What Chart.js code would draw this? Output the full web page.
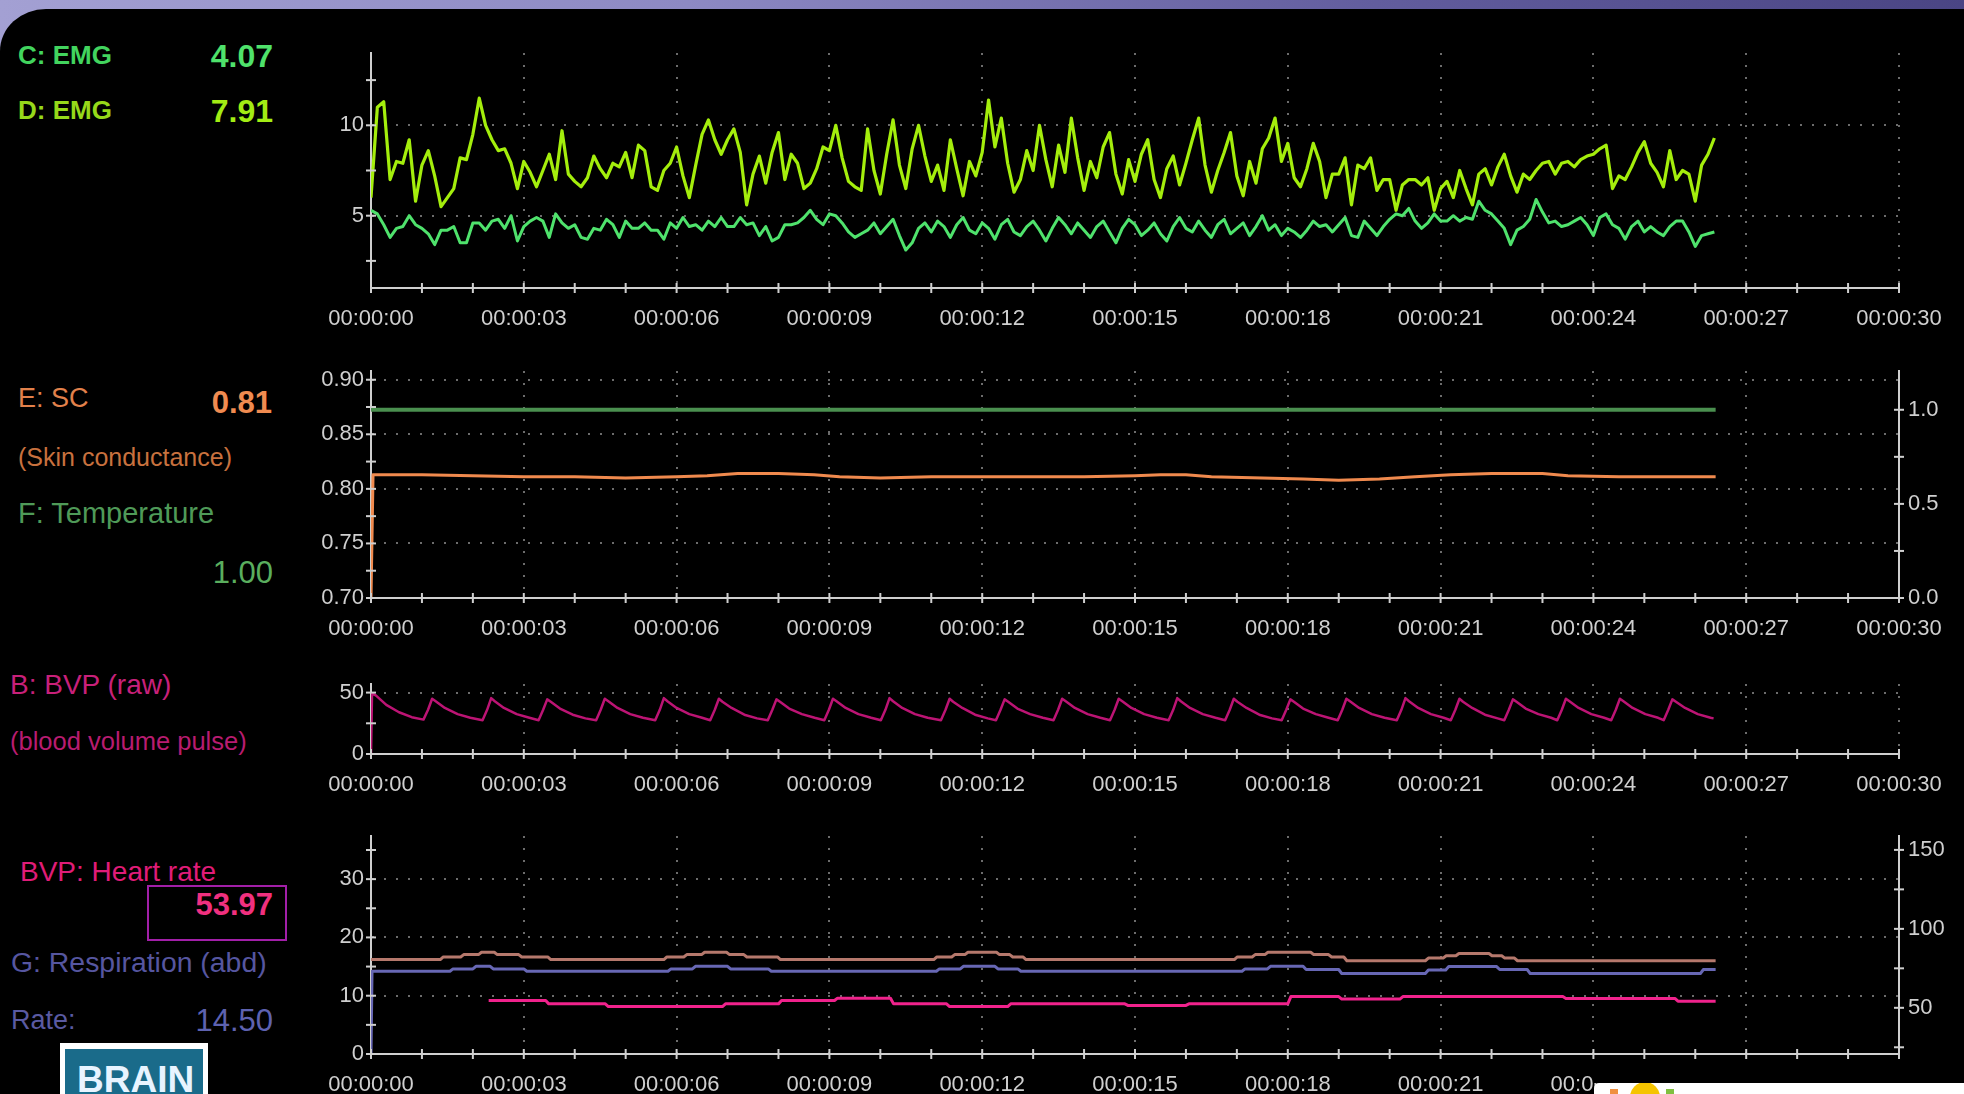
<!DOCTYPE html>
<html>
<head>
<meta charset="utf-8">
<script src="https://cdn.jsdelivr.net/npm/chart.js@4.4.1/dist/chart.umd.min.js"></script>
<style>
  html, body { margin: 0; padding: 0; background: #000; }
  #screen { position: relative; width: 1964px; height: 1094px; overflow: hidden;
    background: linear-gradient(90deg, #a3a0d3 0%, #8d89c3 35%, #625d9e 70%, #4a4584 100%);
    font-family: 'Liberation Sans', Arial, sans-serif; }
  #panel { position: absolute; left: 0; top: 9px; width: 1964px; height: 1085px; background: #000;
    border-top-left-radius: 46px 42px; }
  .lbl { position: absolute; white-space: nowrap; line-height: 1; transform: translateY(-50%); }
  .val { position: absolute; white-space: nowrap; line-height: 1; transform: translateY(-50%); text-align: right; width: 120px; }
  canvas { position: absolute; left: 300px; }
</style>
</head>
<body>
<div id="screen">
  <div id="panel"></div>

  <div class="lbl" style="left:18px;top:55px;color:#42d45e;font-weight:bold;font-size:26px">C: EMG</div>
  <div class="val" style="left:153px;top:56px;color:#4fe26b;font-weight:bold;font-size:32px">4.07</div>
  <div class="lbl" style="left:18px;top:110px;color:#96d81a;font-weight:bold;font-size:26px">D: EMG</div>
  <div class="val" style="left:153px;top:111px;color:#a2ec14;font-weight:bold;font-size:32px">7.91</div>

  <div class="lbl" style="left:18px;top:398px;color:#e2814b;font-size:27px">E: SC</div>
  <div class="val" style="left:152px;top:402px;color:#f08b50;font-weight:bold;font-size:31px">0.81</div>
  <div class="lbl" style="left:18px;top:457px;color:#c8713e;font-size:25px">(Skin conductance)</div>
  <div class="lbl" style="left:18px;top:513px;color:#4f9a58;font-size:29px">F: Temperature</div>
  <div class="val" style="left:153px;top:572px;color:#5aae5e;font-size:31px">1.00</div>

  <div class="lbl" style="left:10px;top:685px;color:#c8207a;font-size:28px">B: BVP (raw)</div>
  <div class="lbl" style="left:10px;top:742px;color:#b81c70;font-size:25.5px">(blood volume pulse)</div>

  <div class="lbl" style="left:20px;top:872px;color:#e01c78;font-size:28px">BVP: Heart rate</div>
  <div style="position:absolute;left:147px;top:885px;width:136px;height:52px;border:2px solid #a21fa8"></div>
  <div class="val" style="left:153px;top:904px;color:#f0307f;font-weight:bold;font-size:31px">53.97</div>
  <div class="lbl" style="left:11px;top:962px;color:#5656a0;font-size:28.4px">G: Respiration (abd)</div>
  <div class="lbl" style="left:11px;top:1020px;color:#5a5aa2;font-size:27px">Rate:</div>
  <div class="val" style="left:153px;top:1020px;color:#5e62b0;font-size:31px">14.50</div>

  <div style="position:absolute;left:60px;top:1043px;width:138px;height:60px;border:5px solid #fff;border-top-width:6px;background:#1a6b8a;overflow:hidden">
    <div style="position:absolute;left:12px;top:12px;color:#e8f4ff;font-weight:bold;font-size:37px;line-height:1">BRAIN</div>
  </div>

  <canvas id="c1" width="1664" height="316" style="top:29px"></canvas>
  <canvas id="c2" width="1664" height="308" style="top:347px"></canvas>
  <canvas id="c3" width="1664" height="151" style="top:660px"></canvas>
  <canvas id="c4" width="1664" height="282" style="top:812px"></canvas>

  <div style="position:absolute;left:1594px;top:1060px;width:370px;height:23px;background:#000"></div>
  <div style="position:absolute;left:1594px;top:1083px;width:370px;height:11px;background:#fff;border-top-left-radius:5px;overflow:hidden">
    <div style="position:absolute;left:36px;top:-1px;width:30px;height:30px;border-radius:50%;background:#f5c400"></div>
    <div style="position:absolute;left:16px;top:6px;width:8px;height:5px;background:#f09040"></div>
    <div style="position:absolute;left:72px;top:6px;width:8px;height:5px;background:#80c040"></div>
  </div>
</div>

<script>
// --- DATOS ---
const timeLabels = ['00:00:00', '00:00:03', '00:00:06', '00:00:09', '00:00:12', '00:00:15',
                    '00:00:18', '00:00:21', '00:00:24', '00:00:27', '00:00:30'];

// EMG, one sample every 0.125 s (8 per row = 1 s)
const EMG_STEP = 0.125;
const emgD = [
  6.0, 11.0, 11.3, 7.0, 8.0, 7.9, 9.2, 5.8,
  7.8, 8.6, 7.2, 5.5, 6.0, 6.5, 8.2, 8.1,
  9.5, 11.5, 10.0, 9.2, 8.6, 8.7, 7.9, 6.5,
  8.0, 7.4, 6.6, 7.5, 8.4, 7.0, 9.7, 7.3,
  6.9, 6.6, 7.1, 8.3, 7.6, 7.1, 7.9, 7.7,
  8.5, 7.1, 8.9, 8.6, 6.6, 6.4, 7.5, 7.9,
  8.8, 7.2, 6.0, 7.8, 9.5, 10.3, 9.2, 8.4,
  9.2, 9.8, 8.5, 5.6, 7.3, 8.3, 6.8, 8.5,
  9.6, 7.0, 8.4, 7.9, 6.5, 6.8, 7.6, 8.8,
  8.6, 10.0, 8.2, 6.9, 6.6, 6.4, 9.8, 7.5,
  6.2, 8.4, 10.3, 7.8, 6.5, 8.7, 10.0, 8.3,
  6.9, 7.8, 6.4, 9.2, 7.6, 6.1, 8.0, 7.2,
  8.5, 11.4, 8.8, 10.4, 7.9, 6.3, 7.0, 8.6,
  7.5, 10.0, 8.1, 6.6, 8.9, 7.4, 10.4, 8.2,
  6.4, 8.0, 7.1, 8.8, 9.6, 7.3, 6.2, 8.1,
  6.9, 8.4, 9.2, 7.0, 6.0, 7.6, 8.3, 6.7,
  7.9, 9.2, 10.4, 7.8, 6.3, 7.5, 8.5, 9.6,
  7.2, 6.1, 8.0, 6.8, 8.7, 9.3, 10.4, 8.0,
  9.0, 7.1, 6.6, 7.6, 9.0, 8.0, 6.0, 7.3,
  7.3, 8.2, 5.6, 7.8, 7.6, 8.2, 6.4, 7.0,
  7.0, 5.3, 6.7, 7.0, 7.0, 6.7, 7.1, 5.3,
  6.5, 6.9, 6.0, 7.5, 6.5, 5.6, 7.3, 7.6,
  6.7, 7.7, 8.4, 7.2, 6.3, 7.3, 7.0, 7.5,
  7.9, 8.0, 7.3, 7.9, 8.0, 7.7, 8.1, 8.3,
  8.4, 8.7, 8.9, 6.5, 7.2, 7.0, 7.7, 8.5,
  9.1, 7.9, 7.4, 6.6, 8.6, 7.0, 7.5, 7.3,
  5.8, 7.8, 8.4, 9.3
];
const emgC = [
  5.3, 5.1, 4.5, 3.8, 4.3, 4.4, 5.0, 4.5,
  4.3, 4.0, 3.4, 4.2, 4.2, 4.4, 3.5, 3.5,
  4.6, 4.6, 4.2, 4.7, 4.8, 4.3, 5.0, 3.6,
  4.4, 4.7, 4.9, 4.7, 3.8, 5.1, 4.6, 4.3,
  4.5, 3.8, 3.7, 4.3, 4.2, 4.8, 4.5, 3.8,
  4.7, 4.3, 4.3, 4.6, 4.2, 4.2, 3.7, 4.6,
  4.3, 4.9, 4.4, 4.5, 4.2, 4.7, 4.4, 4.9,
  4.4, 4.4, 4.9, 4.5, 4.6, 3.9, 4.4, 3.6,
  3.8, 4.5, 4.5, 4.6, 4.9, 5.3, 4.8, 4.5,
  5.1, 5.0, 4.6, 4.1, 3.8, 4.0, 4.2, 4.6,
  4.0, 4.4, 4.8, 3.9, 3.1, 3.5, 4.3, 4.6,
  4.1, 4.7, 4.4, 3.8, 4.5, 4.9, 4.2, 4.0,
  4.6, 4.3, 3.7, 4.5, 4.8, 4.1, 3.9, 4.4,
  4.7, 4.2, 3.6, 4.3, 4.9, 4.5, 4.0, 4.6,
  4.2, 3.8, 4.4, 4.7, 4.1, 3.5, 4.3, 4.8,
  4.5, 3.9, 4.2, 4.6, 4.0, 3.6, 4.4, 4.9,
  4.3, 4.1, 4.7, 4.2, 3.8, 4.5, 4.8, 4.0,
  4.3, 4.6, 3.9, 4.4, 5.0, 4.2, 4.5, 3.9,
  4.3, 4.1, 3.8, 4.2, 4.7, 4.4, 4.5, 4.1,
  4.5, 4.9, 3.9, 3.8, 4.7, 4.3, 3.9, 4.4,
  4.8, 5.1, 5.0, 5.4, 4.7, 4.3, 4.6, 5.1,
  4.7, 4.7, 5.0, 4.7, 4.9, 4.8, 5.8, 5.3,
  5.1, 4.7, 4.3, 3.4, 4.2, 4.4, 4.8, 5.9,
  5.2, 4.6, 4.7, 4.4, 4.5, 4.7, 4.9, 4.5,
  3.9, 4.9, 5.1, 4.5, 4.3, 3.7, 4.4, 4.7,
  4.1, 4.4, 4.1, 3.9, 4.4, 4.7, 4.7, 4.1,
  3.3, 3.9, 4.0, 4.1
];

// skin conductance (left axis) and temperature (right axis)
const scTime  = [0, 0.04, 1, 2, 3, 4, 5, 6, 6.6, 7.2, 8.0, 8.7, 9.2, 10, 11, 12, 13, 14, 15, 15.5, 16.0, 16.5, 17.5, 18.3, 19.0, 19.8, 20.5, 21.2, 22.0, 23.0, 23.5, 24.5, 25.5, 26.4];
const scValue = [0.70, 0.813, 0.813, 0.812, 0.811, 0.811, 0.810, 0.811, 0.812, 0.814, 0.814, 0.813, 0.811, 0.810, 0.811, 0.811, 0.811, 0.811, 0.812, 0.813, 0.813, 0.811, 0.810, 0.809, 0.808, 0.809, 0.811, 0.813, 0.814, 0.814, 0.812, 0.811, 0.811, 0.811];
const tempTime  = [0, 5, 10, 15, 20, 26.4];
const tempValue = [1.00, 1.00, 1.00, 1.00, 1.00, 1.00];

// blood volume pulse (raw)
const bvpTime = [0, 0.02, 0.1, 0.3, 0.55, 0.8,
  1.03, 1.12, 1.20, 1.27, 1.45, 1.70, 1.95,
  2.19, 2.28, 2.36, 2.43, 2.61, 2.86, 3.11,
  3.29, 3.38, 3.46, 3.53, 3.71, 3.96, 4.21,
  4.42, 4.51, 4.59, 4.66, 4.84, 5.09, 5.34,
  5.58, 5.67, 5.75, 5.82, 6.00, 6.25, 6.50,
  6.66, 6.75, 6.83, 6.90, 7.08, 7.33, 7.58,
  7.79, 7.88, 7.96, 8.03, 8.21, 8.46, 8.71,
  8.90, 8.99, 9.07, 9.14, 9.32, 9.57, 9.82,
  10.01, 10.10, 10.18, 10.25, 10.43, 10.68, 10.93,
  11.19, 11.28, 11.36, 11.43, 11.61, 11.86, 12.11,
  12.27, 12.36, 12.44, 12.51, 12.69, 12.94, 13.19,
  13.40, 13.49, 13.57, 13.64, 13.82, 14.07, 14.32,
  14.51, 14.60, 14.68, 14.75, 14.93, 15.18, 15.43,
  15.66, 15.75, 15.83, 15.90, 16.08, 16.33, 16.58,
  16.77, 16.86, 16.94, 17.01, 17.19, 17.44, 17.69,
  17.88, 17.97, 18.05, 18.12, 18.30, 18.55, 18.80,
  18.98, 19.07, 19.15, 19.22, 19.40, 19.65, 19.90,
  20.14, 20.23, 20.31, 20.38, 20.56, 20.81, 21.06,
  21.20, 21.29, 21.37, 21.44, 21.62, 21.87, 22.12,
  22.25, 22.34, 22.42, 22.49, 22.67, 22.92, 23.17,
  23.29, 23.38, 23.46, 23.53, 23.71, 23.96, 24.21,
  24.35, 24.44, 24.52, 24.59, 24.77, 25.02, 25.27,
  25.38, 25.47, 25.55, 25.62, 25.80, 26.05, 26.30, 26.36];
const bvpValue = [0, 49.5, 47.5, 40, 34, 30,
  28.0, 36, 45.0, 43.0, 37.5, 32.5, 29.5,
  27.5, 36, 45.5, 43.0, 37.5, 32.5, 29.5,
  27.5, 36, 44.5, 42.5, 37.0, 32.0, 29.0,
  27.5, 36, 45.0, 43.0, 37.5, 32.5, 29.5,
  27.5, 36, 45.5, 43.0, 37.5, 32.5, 29.5,
  27.5, 36, 45.0, 42.5, 37.5, 32.0, 29.0,
  27.5, 36, 44.5, 42.5, 37.0, 32.5, 29.5,
  27.5, 36, 45.0, 43.0, 37.5, 32.5, 29.5,
  27.5, 36, 45.5, 43.0, 37.5, 32.5, 29.5,
  27.5, 36, 45.0, 42.5, 37.5, 32.0, 29.0,
  27.5, 36, 44.5, 42.5, 37.0, 32.5, 29.5,
  27.5, 36, 45.0, 43.0, 37.5, 32.5, 29.5,
  27.5, 36, 45.0, 43.0, 37.5, 32.5, 29.5,
  27.5, 36, 45.5, 43.0, 37.5, 32.5, 29.5,
  27.5, 36, 45.0, 42.5, 37.5, 32.0, 29.0,
  27.5, 36, 44.5, 42.5, 37.0, 32.5, 29.5,
  27.5, 36, 45.0, 43.0, 37.5, 32.5, 29.5,
  27.5, 36, 45.5, 43.0, 37.5, 32.5, 29.5,
  27.5, 36, 45.0, 42.5, 37.5, 32.0, 29.0,
  27.5, 36, 44.5, 42.5, 37.0, 32.5, 29.5,
  27.5, 36, 45.0, 43.0, 37.5, 32.5, 29.5,
  27.5, 36, 45.0, 43.0, 37.5, 32.5, 29.5,
  27.5, 36, 44.5, 42.5, 37.5, 32.5, 29.5, 29.0];

// respiration (left axis) and heart rate (right axis)
const rawTime  = [0, 1.36, 1.42, 1.76, 1.82, 2.11, 2.17, 2.42, 2.48, 2.90, 2.96, 3.47, 3.53,
  5.75, 5.81, 6.14, 6.20, 6.49, 6.55, 6.98, 7.04, 7.32, 7.38, 7.98, 8.04,
  11.05, 11.11, 11.40, 11.46, 11.66, 11.72, 12.28, 12.34, 12.54, 12.60, 12.80, 12.86,
  16.95, 17.01, 17.30, 17.36, 17.55, 17.61, 18.45, 18.51, 18.80, 18.86, 19.10, 19.16,
  20.70, 20.76, 21.05, 21.11, 21.30, 21.36, 21.95, 22.01, 22.20, 22.26, 22.45, 22.51, 26.4];
const rawValue = [16.2, 16.2, 16.65, 16.65, 17.05, 17.05, 17.45, 17.45, 17.05, 17.05, 16.65, 16.65, 16.2,
  16.2, 16.65, 16.65, 17.05, 17.05, 17.45, 17.45, 17.05, 17.05, 16.65, 16.65, 16.2,
  16.2, 16.65, 16.65, 17.05, 17.05, 17.45, 17.45, 17.05, 17.05, 16.65, 16.65, 16.2,
  16.2, 16.65, 16.65, 17.05, 17.05, 17.45, 17.45, 17.05, 17.05, 16.65, 16.65, 16.0,
  16.0, 16.45, 16.45, 16.85, 16.85, 17.25, 17.25, 16.85, 16.85, 16.45, 16.45, 16.0, 16.0];
const rateTime  = [0, 0.02, 1.55, 1.61, 2.00, 2.06, 2.34, 2.40, 3.00, 3.06,
  5.83, 5.89, 6.31, 6.37, 7.00, 7.06, 7.80, 7.86,
  11.10, 11.16, 11.57, 11.63, 12.25, 12.31, 12.70, 12.76,
  17.10, 17.16, 17.60, 17.66, 18.30, 18.36, 19.00, 19.06,
  20.70, 20.76, 21.10, 21.16, 22.10, 22.16, 22.70, 22.76, 26.10, 26.16, 26.4];
const rateValue = [0, 14.2, 14.2, 14.6, 14.6, 15.05, 15.05, 14.6, 14.6, 14.2,
  14.2, 14.6, 14.6, 15.05, 15.05, 14.6, 14.6, 14.2,
  14.2, 14.6, 14.6, 15.05, 15.05, 14.6, 14.6, 14.2,
  14.2, 14.6, 14.6, 15.05, 15.05, 14.5, 14.5, 13.8,
  13.8, 14.4, 14.4, 15.0, 15.0, 14.5, 14.5, 13.8, 13.8, 14.5, 14.5];
const hrTime  = [2.31, 3.43, 3.49, 4.60, 4.66, 6.90, 6.96, 8.00, 8.06, 9.10, 9.16, 10.20, 10.26,
  11.30, 11.36, 12.50, 12.56, 14.80, 14.86, 16.00, 16.06, 18.00, 18.06, 19.00, 19.06,
  20.20, 20.26, 23.40, 23.46, 25.60, 25.66, 26.4];
const hrValue = [54.6, 54.6, 52.5, 52.5, 50.8, 50.8, 52.5, 52.5, 54.6, 54.6, 56.1, 56.1, 52.5,
  52.5, 50.8, 50.8, 52.5, 52.5, 51.5, 51.5, 52.5, 52.5, 57.1, 57.1, 55.5,
  55.5, 57.1, 57.1, 55.9, 55.9, 54.2, 54.2];

// tick values and labels per axis
const emgTicks  = [2.5, 5, 7.5, 10, 12.5];
const emgLabels = ['', '5', '', '10', ''];
const scTicks   = [0.70, 0.725, 0.75, 0.775, 0.80, 0.825, 0.85, 0.875, 0.90];
const scLabels  = ['0.70', '', '0.75', '', '0.80', '', '0.85', '', '0.90'];
const tempTicks  = [0, 0.25, 0.5, 0.75, 1.0];
const tempLabels = ['0.0', '', '0.5', '', '1.0'];
const bvpTicks  = [0, 25, 50];
const bvpLabels = ['0', '', '50'];
const respTicks  = [0, 5, 10, 15, 20, 25, 30, 35];
const respLabels = ['0', '', '10', '', '20', '', '30', ''];
const hrTicks  = [25, 50, 75, 100, 125, 150];
const hrLabels = ['', '50', '', '100', '', '150'];

// --- ESTILO ---
const AXIS = '#cfcfcf';
const DOT = '#6c6c6c';
const TICKFONT = { family: "'Liberation Sans', Arial, sans-serif", size: 22 };
const pts = (xs, ys) => xs.map((x, i) => ({ x: x, y: ys[i] }));
const emgPts = arr => arr.map((v, i) => ({ x: i * EMG_STEP, y: v }));

// small crossing tick marks on every axis
const tickMarks = {
  id: 'tickMarks',
  afterDraw(chart) {
    const { ctx, chartArea: a } = chart;
    ctx.save();
    ctx.strokeStyle = AXIS; ctx.lineWidth = 2;
    Object.values(chart.scales).forEach(s => {
      s.ticks.forEach(t => {
        ctx.beginPath();
        if (s.axis === 'x') {
          const x = s.getPixelForValue(t.value);
          ctx.moveTo(x, a.bottom - 5); ctx.lineTo(x, a.bottom + 5);
        } else {
          const y = s.getPixelForValue(t.value);
          const x = s.position === 'left' ? a.left : a.right;
          ctx.moveTo(x - 5, y); ctx.lineTo(x + 5, y);
        }
        ctx.stroke();
      });
    });
    ctx.restore();
  }
};

function xScale(h) {
  return {
    type: 'linear', min: 0, max: 30,
    afterFit: s => { s.height = h; },
    ticks: { stepSize: 1, autoSkip: false, maxRotation: 0, color: AXIS, font: TICKFONT, padding: 18,
      callback: v => (v % 3 === 0 ? timeLabels[v / 3] : '') },
    grid: { drawTicks: false, lineWidth: 2,
      color: c => (c.tick && c.tick.value % 3 === 0 && c.tick.value > 0 ? DOT : 'rgba(0,0,0,0)') },
    border: { color: AXIS, width: 2, dash: [2, 10] }
  };
}

function yScale(pos, min, max, values, labels, gridOn) {
  return {
    type: 'linear', position: pos, min: min, max: max,
    afterFit: s => { s.width = pos === 'left' ? 71 : 65; },
    afterBuildTicks: s => { s.ticks = values.map(v => ({ value: v })); },
    ticks: { autoSkip: false, color: AXIS, font: TICKFONT, padding: pos === 'left' ? 7 : 9, callback: (v, i) => labels[i] },
    grid: { display: gridOn, drawTicks: false, lineWidth: 2,
      color: c => (labels[c.index] && c.index > 0 ? DOT : 'rgba(0,0,0,0)') },
    border: { color: AXIS, width: 2, dash: [2, 10] }
  };
}

function line(data, color, width, axis) {
  return { data: data, borderColor: color, borderWidth: width, yAxisID: axis || 'y' };
}

function makeChart(id, xHeight, yScales, datasets, padRight) {
  return new Chart(document.getElementById(id), {
    type: 'line',
    data: { datasets: datasets },
    options: {
      responsive: false, animation: false, devicePixelRatio: 1,
      layout: { padding: { top: 24, right: padRight, left: 0, bottom: 0 } },
      plugins: { legend: { display: false }, tooltip: { enabled: false } },
      elements: { point: { radius: 0 }, line: { tension: 0, borderJoinStyle: 'round' } },
      scales: Object.assign({ x: xScale(xHeight) }, yScales)
    },
    plugins: [tickMarks]
  });
}

// --- GRÁFICAS ---
makeChart('c1', 57, { y: yScale('left', 1, 14, emgTicks, emgLabels, true) }, [
  line(emgPts(emgD), '#a4ee0c', 3.2),
  line(emgPts(emgC), '#4fe26c', 3)
], 65);

makeChart('c2', 57, {
  y: yScale('left', 0.70, 0.908, scTicks, scLabels, true),
  y2: yScale('right', 0, 1.206, tempTicks, tempLabels, false)
}, [
  line(pts(scTime, scValue), '#f08a4e', 3),
  line(pts(tempTime, tempValue), '#4a8f4f', 4, 'y2')
], 0);

makeChart('c3', 57, { y: yScale('left', 0, 57, bvpTicks, bvpLabels, true) }, [
  line(pts(bvpTime, bvpValue), '#bc1474', 2.5)
], 65);

makeChart('c4', 40, {
  y: yScale('left', 0, 37.4, respTicks, respLabels, true),
  y2: yScale('right', 20.75, 158.8, hrTicks, hrLabels, false)
}, [
  line(pts(hrTime, hrValue), '#f0228c', 3, 'y2'),
  line(pts(rateTime, rateValue), '#6767b4', 3),
  line(pts(rawTime, rawValue), '#b5786c', 3)
], 0);
</script>
</body>
</html>
